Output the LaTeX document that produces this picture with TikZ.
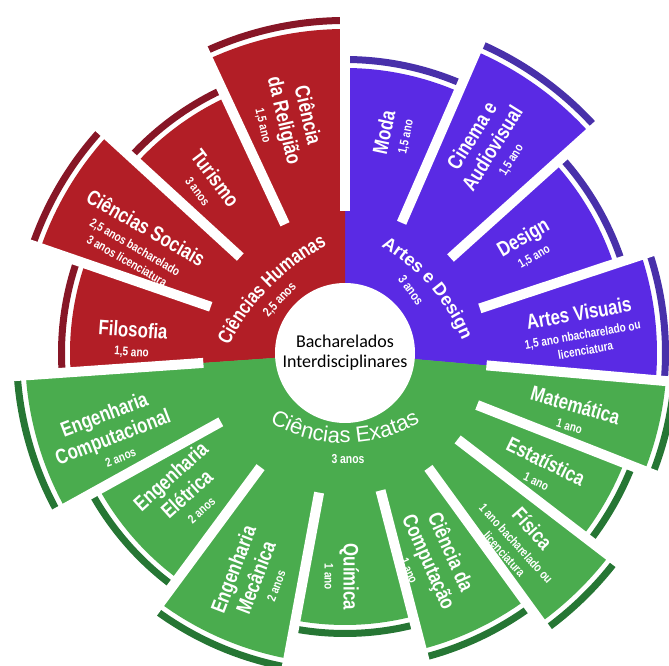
\documentclass[tikz,border=0pt]{standalone}
\usepackage{fontspec}
\setmainfont{Liberation Sans}
\newfontfamily\narrowfont[FakeStretch=0.8]{Liberation Sans}
\newfontfamily\centrofont{Carlito}
\usepackage{xcolor}
\usetikzlibrary{decorations.text}

\definecolor{humRed}{RGB}{178,30,38}
\definecolor{humDark}{RGB}{135,22,38}
\definecolor{artPurple}{RGB}{90,42,228}
\definecolor{artDark}{RGB}{72,48,170}
\definecolor{exaGreen}{RGB}{74,172,78}
\definecolor{exaDark}{RGB}{38,118,52}

\newcommand{\dur}[1]{{\fontsize{12.5}{12.5}\selectfont #1}}

\begin{document}
\begin{tikzpicture}[
    course/.style={text=white, align=center, inner sep=0pt, font=\narrowfont\bfseries\fontsize{21}{24}\selectfont},
    years/.style={text=white, inner sep=0pt, font=\narrowfont\bfseries\fontsize{13}{13}\selectfont},
    gap/.style={white, line width=10pt},
    rim/.style={line width=7pt}
]
    \useasboundingbox (-345pt,-313pt) rectangle (324pt,353pt);

    % Areas
    \fill[artPurple] (0,0) -- (-5:150pt) arc[start angle=-5, end angle=90, radius=150pt] -- cycle;
    \fill[humRed] (0,0) -- (90:150pt) arc[start angle=90, end angle=184, radius=150pt] -- cycle;
    \fill[exaGreen] (0,0) -- (184:150pt) arc[start angle=184, end angle=355, radius=150pt] -- cycle;

    % Petals
    \fill[artPurple] (0,0) -- (-5:312pt) arc[start angle=-5, end angle=18.3, radius=312pt] -- cycle;
    \fill[artPurple] (0,0) -- (18.3:283pt) arc[start angle=18.3, end angle=42, radius=283pt] -- cycle;
    \fill[artPurple] (0,0) -- (42:329pt) arc[start angle=42, end angle=66.5, radius=329pt] -- cycle;
    \fill[artPurple] (0,0) -- (66.5:285pt) arc[start angle=66.5, end angle=90, radius=285pt] -- cycle;
    \fill[humRed] (0,0) -- (90:324pt) arc[start angle=90, end angle=115, radius=324pt] -- cycle;
    \fill[humRed] (0,0) -- (115:282pt) arc[start angle=115, end angle=137.5, radius=282pt] -- cycle;
    \fill[humRed] (0,0) -- (137.5:322pt) arc[start angle=137.5, end angle=161, radius=322pt] -- cycle;
    \fill[humRed] (0,0) -- (161:275pt) arc[start angle=161, end angle=184, radius=275pt] -- cycle;
    \fill[exaGreen] (0,0) -- (184:320pt) arc[start angle=184, end angle=209, radius=320pt] -- cycle;
    \fill[exaGreen] (0,0) -- (209:281pt) arc[start angle=209, end angle=233.5, radius=281pt] -- cycle;
    \fill[exaGreen] (0,0) -- (233.5:311pt) arc[start angle=233.5, end angle=259.5, radius=311pt] -- cycle;
    \fill[exaGreen] (0,0) -- (259.5:272pt) arc[start angle=259.5, end angle=284.5, radius=272pt] -- cycle;
    \fill[exaGreen] (0,0) -- (284.5:306pt) arc[start angle=284.5, end angle=306, radius=306pt] -- cycle;
    \fill[exaGreen] (0,0) -- (306:333pt) arc[start angle=306, end angle=322.5, radius=333pt] -- cycle;
    \fill[exaGreen] (0,0) -- (322.5:300pt) arc[start angle=322.5, end angle=338.5, radius=300pt] -- cycle;
    \fill[exaGreen] (0,0) -- (338.5:322pt) arc[start angle=338.5, end angle=355, radius=322pt] -- cycle;

    % Rims
    \draw[rim, artDark] (-5:320.5pt) arc[start angle=-5, end angle=18.3, radius=320.5pt];
    \draw[rim, artDark] (18.3:291.5pt) arc[start angle=18.3, end angle=42, radius=291.5pt];
    \draw[rim, artDark] (42:337.5pt) arc[start angle=42, end angle=66.5, radius=337.5pt];
    \draw[rim, artDark] (66.5:293.5pt) arc[start angle=66.5, end angle=90, radius=293.5pt];
    \draw[rim, humDark] (90:332.5pt) arc[start angle=90, end angle=115, radius=332.5pt];
    \draw[rim, humDark] (115:290.5pt) arc[start angle=115, end angle=137.5, radius=290.5pt];
    \draw[rim, humDark] (137.5:330.5pt) arc[start angle=137.5, end angle=161, radius=330.5pt];
    \draw[rim, humDark] (161:283.5pt) arc[start angle=161, end angle=184, radius=283.5pt];
    \draw[rim, exaDark] (184:328.5pt) arc[start angle=184, end angle=209, radius=328.5pt];
    \draw[rim, exaDark] (209:289.5pt) arc[start angle=209, end angle=233.5, radius=289.5pt];
    \draw[rim, exaDark] (233.5:319.5pt) arc[start angle=233.5, end angle=259.5, radius=319.5pt];
    \draw[rim, exaDark] (259.5:280.5pt) arc[start angle=259.5, end angle=284.5, radius=280.5pt];
    \draw[rim, exaDark] (284.5:314.5pt) arc[start angle=284.5, end angle=306, radius=314.5pt];
    \draw[rim, exaDark] (306:341.5pt) arc[start angle=306, end angle=322.5, radius=341.5pt];
    \draw[rim, exaDark] (322.5:308.5pt) arc[start angle=322.5, end angle=338.5, radius=308.5pt];
    \draw[rim, exaDark] (338.5:330.5pt) arc[start angle=338.5, end angle=355, radius=330.5pt];

    % Gaps
    \draw[gap] (-5:142pt) -- (-5:350pt);
    \draw[gap] (18.3:142pt) -- (18.3:350pt);
    \draw[gap] (42:142pt) -- (42:350pt);
    \draw[gap] (66.5:142pt) -- (66.5:350pt);
    \draw[gap] (90:142pt) -- (90:350pt);
    \draw[gap] (115:142pt) -- (115:350pt);
    \draw[gap] (137.5:142pt) -- (137.5:350pt);
    \draw[gap] (161:142pt) -- (161:350pt);
    \draw[gap] (184:142pt) -- (184:350pt);
    \draw[gap] (209:142pt) -- (209:350pt);
    \draw[gap] (233.5:142pt) -- (233.5:350pt);
    \draw[gap] (259.5:142pt) -- (259.5:350pt);
    \draw[gap] (284.5:142pt) -- (284.5:350pt);
    \draw[gap] (306:142pt) -- (306:350pt);
    \draw[gap] (322.5:142pt) -- (322.5:350pt);
    \draw[gap] (338.5:142pt) -- (338.5:350pt);

    % Centre
    \node[circle, fill=white, minimum size=140pt, inner sep=0pt, align=center,
          font=\centrofont\fontsize{18}{20}\selectfont] (centro) at (0,0) {Bacharelados\\Interdisciplinares};

    % Areas text
    \path[decorate, decoration={text along path, text align=center, text color=white,
          text={|\narrowfont\bfseries\fontsize{20}{20}\selectfont|Ciências Humanas}}]
          ([shift={(84pt,-91pt)}]155:223pt) arc[start angle=155, end angle=116, radius=223pt];
    \node[years, rotate=47] (humanos) at (-65pt,53pt) {2,5 anos};
    \path[decorate, decoration={text along path, text align=center, text color=white,
          text={|\bfseries\fontsize{18}{18}\selectfont|Artes e Design}}]
          ([shift={(-62pt,-61pt)}]66:194pt) arc[start angle=66, end angle=16, radius=194pt];
    \node[years, rotate=-54] (artes) at (66pt,63pt) {3 anos};
    \path[decorate, decoration={text along path, text align=center, text color=white,
          text={|\fontsize{22}{22}\selectfont|Ciências Exatas}}]
          ([shift={(0pt,58pt)}]-123:148pt) arc[start angle=-123, end angle=-57, radius=148pt];
    \node[years] (exatas) at (3pt,-106pt) {3 anos};

    % Courses
    \node[course, rotate=-4] (filo) at (176.5:213pt) {Filosofia\\[-5pt]\dur{1,5 ano}};
    \node[course, rotate=-30] (socia) at (152:235pt) {Ciências Sociais\\[-5pt]\dur{2,5 anos bacharelado}\\[-8pt]\dur{3 anos licenciatura}};
    \node[course, rotate=-53] (turis) at (129:218pt) {Turismo\\[-5pt]\dur{3 anos}};
    \node[course, rotate=-77] (relig) at (104:240pt) {Ciência\\da Religião\\[-5pt]\dur{1,5 ano}};
    \node[course, rotate=78] (moda) at (77.4:224pt) {Moda\\[-5pt]\dur{1,5 ano}};
    \node[course, rotate=58] (cinema) at (54.7:252pt) {Cinema e\\Audiovisual\\[-5pt]\dur{1,5 ano}};
    \node[course, rotate=30] (design) at (30.3:212pt) {Design\\[-5pt]\dur{1,5 ano}};
    \node[course, rotate=10] (artvis) at (5.5:238pt) {Artes Visuais\\[-5pt]\dur{1,5 ano nbacharelado ou}\\[-8pt]\dur{licenciatura}};
    \node[course, rotate=-16] (matem) at (-15:236pt) {Matemática\\[-5pt]\dur{1 ano}};
    \node[course, rotate=-26] (estat) at (-30.7:229pt) {Estatística\\[-5pt]\dur{1 ano}};
    \node[course, rotate=-48] (fisica) at (-47:256pt) {Física\\[-5pt]\dur{1 ano bacharelado ou}\\[-8pt]\dur{licenciatura}};
    \node[course, rotate=-66] (compc) at (-67.3:225pt) {Ciência da\\Computação\\[-5pt]\dur{1 ano}};
    \node[course, rotate=-90] (quimica) at (-90.8:224pt) {Química\\[-5pt]\dur{1 ano}};
    \node[course, rotate=69] (engmec) at (-112.3:242pt) {Engenharia\\Mecânica\\[-5pt]\dur{2 anos}};
    \node[course, rotate=42] (engele) at (-139:212pt) {Engenharia\\Elétrica\\[-5pt]\dur{2 anos}};
    \node[course, rotate=21] (engcomp) at (-160.8:247pt) {Engenharia\\Computacional\\[-5pt]\dur{2 anos}};
\end{tikzpicture}
\end{document}
